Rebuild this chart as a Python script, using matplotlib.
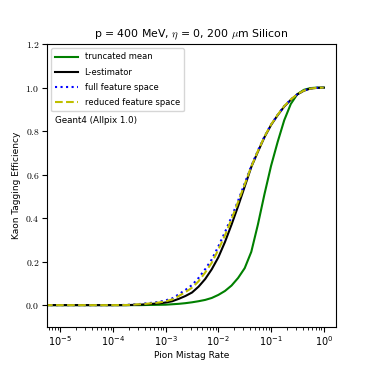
import numpy as np
import matplotlib
matplotlib.use("Agg")
import matplotlib.pyplot as plt

plt.rcParams['mathtext.fontset'] = 'cm'

# log10 of pion mistag rate
logx = [-5.5, -4.0, -3.75, -3.625, -3.5, -3.375, -3.25, -3.125, -3.0, -2.875,
        -2.75, -2.625, -2.5, -2.375, -2.25, -2.125, -2.0, -1.875, -1.75, -1.625,
        -1.5, -1.375, -1.25, -1.125, -1.0, -0.875, -0.75, -0.625, -0.5, -0.375,
        -0.25, -0.125, 0.0]
truncated_mean = [0.0, 0.0, 0.0, 0.0, 0.0, 0.0005, 0.001, 0.0015, 0.002, 0.004,
                  0.006, 0.009, 0.013, 0.018, 0.024, 0.033, 0.047, 0.065, 0.09, 0.125,
                  0.17, 0.245, 0.37, 0.51, 0.64, 0.75, 0.85, 0.925, 0.97, 0.99,
                  0.998, 1.0, 1.0]
l_estimator = [0.0, 0.0, 0.0, 0.001, 0.002, 0.004, 0.006, 0.008, 0.012, 0.018,
               0.029, 0.042, 0.058, 0.085, 0.12, 0.165, 0.22, 0.29, 0.37, 0.455,
               0.545, 0.635, 0.705, 0.772, 0.828, 0.873, 0.913, 0.944, 0.969, 0.986,
               0.996, 0.999, 1.0]
full_feature = [0.0, 0.0, 0.001, 0.003, 0.005, 0.008, 0.011, 0.015, 0.022, 0.031,
                0.05, 0.07, 0.092, 0.125, 0.165, 0.21, 0.27, 0.335, 0.405, 0.48,
                0.56, 0.64, 0.71, 0.775, 0.83, 0.875, 0.915, 0.945, 0.97, 0.987,
                0.996, 0.999, 1.0]
reduced_feature = [0.0, 0.0, 0.0005, 0.002, 0.004, 0.006, 0.009, 0.012, 0.018, 0.026,
                   0.042, 0.06, 0.08, 0.11, 0.15, 0.195, 0.255, 0.32, 0.395, 0.475,
                   0.555, 0.637, 0.708, 0.774, 0.83, 0.875, 0.915, 0.945, 0.97, 0.987,
                   0.996, 0.999, 1.0]

x = 10.0 ** np.array(logx)

fig = plt.figure(figsize=(3.74, 3.74), dpi=100)
ax = fig.add_axes([0.126, 0.126, 0.772, 0.756])

ax.plot(x, truncated_mean, color='green', lw=1.5, label='truncated mean')
ax.plot(x, l_estimator, color='black', lw=1.5, label='L-estimator')
ax.plot(x, full_feature, color='blue', lw=1.5, ls=':', label='full feature space')
ax.plot(x, reduced_feature, color='y', lw=1.5, ls='--', label='reduced feature space')

ax.set_xscale('log')
ax.set_xlim(10 ** -5.25, 10 ** 0.23)
ax.set_ylim(-0.1, 1.2)
ax.set_yticks([0.0, 0.2, 0.4, 0.6, 0.8, 1.0, 1.2])
ax.set_yticklabels([r'$0.0$', r'$0.2$', r'$0.4$', r'$0.6$', r'$0.8$', r'$1.0$', r'$1.2$'])
ax.tick_params(labelsize=7, length=3.5, pad=2)
ax.tick_params(which='minor', length=2)

ax.set_xlabel('Pion Mistag Rate', fontsize=6.5, labelpad=2)
ax.set_ylabel('Kaon Tagging Efficiency', fontsize=6.5, labelpad=3)
ax.set_title(r'p = 400 MeV, $\eta$ = 0, 200 $\mu$m Silicon', fontsize=7.8, pad=5)

ax.legend(loc='upper left', fontsize=6, labelspacing=0.75, handlelength=2.7,
          handletextpad=0.8, borderpad=0.5)
ax.text(0.028, 0.73, 'Geant4 (Allpix 1.0)', transform=ax.transAxes, fontsize=6.3, va='center')

fig.savefig('out.png', dpi=100)
